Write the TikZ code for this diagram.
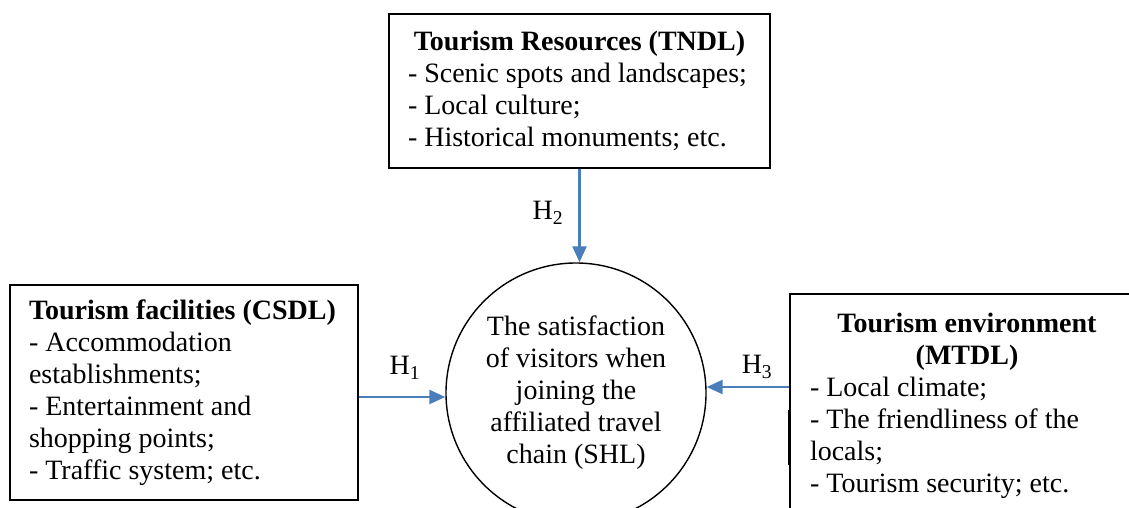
\documentclass[tikz,border=0pt]{standalone}
\usepackage{fontspec}
\setmainfont{Liberation Serif}
\usetikzlibrary{arrows.meta}
\definecolor{linkblue}{RGB}{74,126,187}
\def\bighead#1{\hfill\textbf{#1}\hfill\null}
\def\hyp#1{H\textsubscript{#1}}
\def\plainleft{\raggedright\spaceskip=0pt\xspaceskip=0pt\hyphenpenalty=10000\exhyphenpenalty=10000}

\begin{document}
\begin{tikzpicture}[x=1pt,y=-1pt,
    every node/.style={font=\fontsize{28}{32}\selectfont},
    factor/.style={draw,line width=1.6pt,inner ysep=0pt,execute at begin node=\plainleft},
    link/.style={draw=linkblue,line width=2.4pt,-{Triangle[length=16pt,width=14pt]}}]
  \useasboundingbox (0,0) rectangle (1129,508);
  \clip (0,0) rectangle (1129,508);
  % outcome
  \node[draw,circle,line width=1.4pt,minimum size=260pt,inner sep=0pt,align=center]
    (shl) at (576,393) {The satisfaction\\of visitors when\\joining the\\affiliated travel\\chain (SHL)};
  % factors
  \node[factor,text width=343pt,inner xsep=19pt,minimum height=154pt] (tndl) at (579.5,91)
    {\bighead{Tourism Resources (TNDL)}\\- Scenic spots and landscapes;\\- Local culture;\\- Historical monuments; etc.};
  \node[factor,text width=310pt,inner xsep=19pt,minimum height=215pt] (csdl) at (184,392.5)
    {\textbf{Tourism facilities (CSDL)}\\- Accommodation\\establishments;\\- Entertainment and\\shopping points;\\- Traffic system; etc.};
  \node[factor,text width=314pt,inner xsep=20pt,minimum height=224pt] (mtdl) at (967,406)
    {\bighead{Tourism environment}\\\bighead{(MTDL)}\\- Local climate;\\- The friendliness of the\\locals;\\- Tourism security; etc.};
  \draw[line width=3pt] ([yshift=-59pt]mtdl.west) -- ([yshift=-4pt]mtdl.west);
  % hypotheses
  \draw[link] (tndl.south) -- (tndl.south |- shl.north);
  \draw[link] ([yshift=-4.5pt]csdl.east) -- ([yshift=-4.5pt]csdl.east -| shl.west);
  \draw[link] ([yshift=19pt]mtdl.west) -- ([yshift=19pt]mtdl.west -| shl.east);
  \node (h2) at (548,213) {\hyp{2}};
  \node (h1) at (405,368) {\hyp{1}};
  \node (h3) at (757,367) {\hyp{3}};
\end{tikzpicture}
\end{document}
